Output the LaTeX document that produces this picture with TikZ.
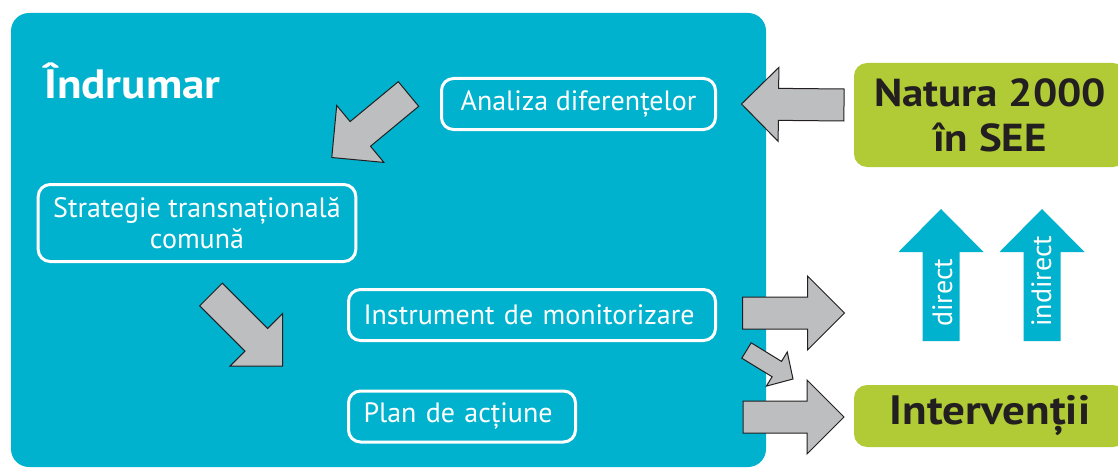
\documentclass[tikz,border=0pt]{standalone}
\usepackage{fontspec}
\setmainfont{PT Sans}
\newfontfamily\widebold[FakeStretch=1.1]{PT Sans Bold}
\usetikzlibrary{calc,positioning}
\definecolor{seecyan}{RGB}{0,178,205}
\definecolor{seegreen}{RGB}{176,203,54}
\definecolor{arrgray}{RGB}{188,190,192}
\definecolor{darktext}{RGB}{35,31,32}

\begin{document}
\begin{tikzpicture}[x=1pt,y=-1pt,
  bigbox/.style={fill=seecyan,rounded corners=18pt,minimum width=755pt,minimum height=454pt,inner sep=0pt,outer sep=0pt},
  box/.style={draw=white,line width=3pt,rounded corners=12pt,text=white,inner xsep=15pt,inner ysep=0pt,minimum height=51pt,outer sep=0pt,font=\fontsize{28}{31}\selectfont},
  goal/.style={fill=seegreen,rounded corners=13pt,text=darktext,align=center,minimum width=272pt,inner sep=0pt,outer sep=0pt},
  title/.style={text=white,font=\fontsize{41}{45}\widebold,anchor=base west,inner sep=0pt},
  fat arrow/.style n args={3}{to path={let \p1=(\tikztostart), \p2=(\tikztotarget), \p3=($(\p2)!#3!(\p1)$) in
    ($(\p1)!#1!90:(\p2)$) -- ($(\p3)!#1!-90:(\p1)$) -- ($(\p3)!#2!-90:(\p1)$) -- (\p2)
    -- ($(\p3)!#2!90:(\p1)$) -- ($(\p3)!#1!90:(\p1)$) -- ($(\p1)!#1!-90:(\p2)$) -- cycle}},
  grayarr/.style={fill=arrgray,draw=darktext,line width=1pt,fat arrow={16pt}{37pt}{37pt}},
  smallarr/.style={fill=arrgray,draw=darktext,line width=1pt,fat arrow={9pt}{20pt}{19pt}},
  uparr/.style={fill=seecyan,draw=none,fat arrow={18.5pt}{42.5pt}{43pt}},
  uplbl/.style={text=white,font=\fontsize{28}{31}\selectfont,rotate=90,anchor=base west,inner sep=0pt}
]
\useasboundingbox (0,0) rectangle (1118,468);

\node[bigbox] (gd) at (388.5,240) {};
\node[title] (ttl) at (44,99) {Îndrumar};
\node[box,minimum width=274pt] (ana) at (578.5,104) {Analiza diferențelor};
\node[box,align=center,minimum width=313pt,minimum height=77pt] (str) at (197,223) {Strategie transnațională\\comună};
\node[box,text width=337pt,align=left] (ins) at (532,315) {Instrument de monitorizare};
\node[box,text width=197pt,align=left] (pln) at (462,416.5) {Plan de acțiune};
\node[goal,minimum height=104pt,font=\fontsize{39}{45}\widebold] (nat) at (990,115) {Natura 2000\\în SEE};
\node[goal,minimum height=62pt,font=\fontsize{41}{45}\widebold] (int) at (990,416) {Intervenții};

\draw[grayarr] ([xshift=-10pt,yshift=10pt]nat.west) to ([xshift=26pt]ana.east);
\draw[grayarr] ([xshift=-33pt,yshift=10pt]ana.west) to ([xshift=-24pt,yshift=27pt]str.north east);
\draw[grayarr] ([xshift=14pt,yshift=-33pt]str.south) to ([xshift=-66pt,yshift=-51pt]ins.west);
\draw[grayarr] ([xshift=27pt,yshift=2pt]ins.east) to ([xshift=129pt,yshift=2pt]ins.east);
\draw[grayarr] ([xshift=-111pt,yshift=-1pt]int.west) to ([xshift=-10pt,yshift=-1pt]int.west);
\draw[smallarr] ([xshift=31pt,yshift=-10pt]ins.south east) to ([xshift=-61pt,yshift=6pt]int.north west);

\path[uparr] ([xshift=-49pt,yshift=44pt]int.north) to ([xshift=-49pt,yshift=-42pt]nat.south);
\path[uparr] ([xshift=52pt,yshift=44pt]int.north) to ([xshift=52pt,yshift=-42pt]nat.south);
\node[uplbl] (dir) at ([xshift=-38pt,yshift=58pt]int.north) {direct};
\node[uplbl] (ind) at ([xshift=61pt,yshift=58pt]int.north) {indirect};
\end{tikzpicture}
\end{document}
